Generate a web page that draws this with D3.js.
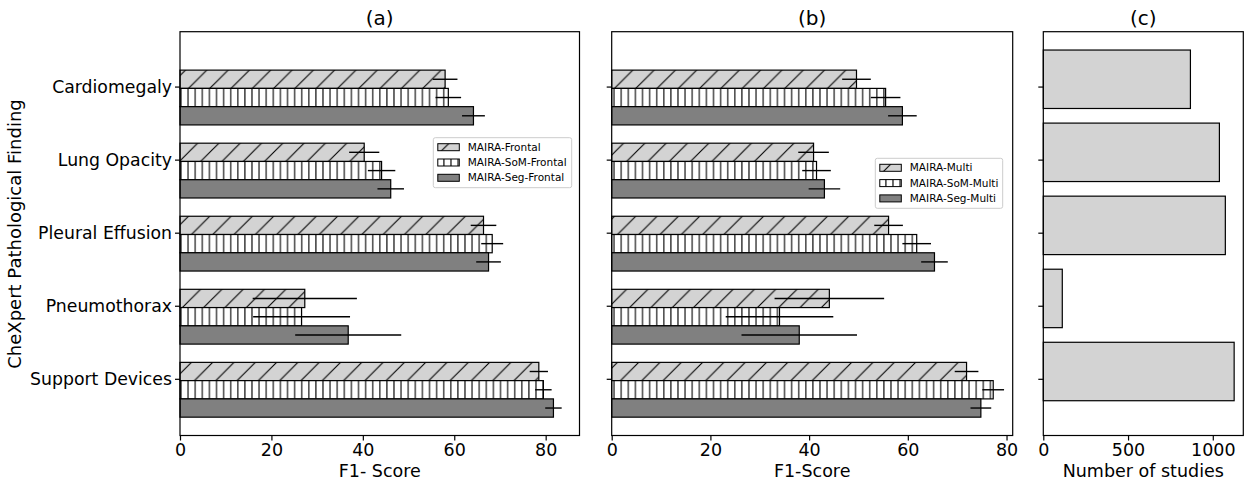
<!DOCTYPE html>
<html>
<head>
<meta charset="utf-8">
<script src="https://cdn.jsdelivr.net/npm/d3@7"></script>
<style>
  body { margin: 0; background: #fff; }
  text { font-family: "DejaVu Sans", sans-serif; fill: #000; }
</style>
</head>
<body>
<svg id="chart" width="1245" height="480"></svg>
<script>
// categories (top to bottom)
const findings = ["Cardiomegaly", "Lung Opacity", "Pleural Effusion", "Pneumothorax", "Support Devices"];

// (a) frontal models: F1 score and error half-width
const frontalNames = ["MAIRA-Frontal", "MAIRA-SoM-Frontal", "MAIRA-Seg-Frontal"];
const maiaFrontal    = [58.0, 40.3, 66.4, 27.3, 78.5];
const maiaFrontalErr = [2.7, 3.3, 2.8, 11.4, 2.0];
const somFrontal     = [58.7, 44.1, 68.3, 26.6, 79.5];
const somFrontalErr  = [2.8, 3.0, 2.4, 10.6, 1.8];
const segFrontal     = [64.2, 46.1, 67.5, 36.8, 81.7];
const segFrontalErr  = [2.5, 2.9, 2.7, 11.6, 1.8];

// (b) multi-view models
const multiNames = ["MAIRA-Multi", "MAIRA-SoM-Multi", "MAIRA-Seg-Multi"];
const maiaMulti    = [49.6, 40.9, 56.1, 44.1, 71.9];
const maiaMultiErr = [2.9, 3.1, 2.9, 11.1, 2.4];
const somMulti     = [55.5, 41.5, 61.8, 34.0, 77.3];
const somMultiErr  = [3.0, 2.9, 2.9, 10.9, 2.2];
const segMulti     = [58.9, 43.1, 65.4, 38.0, 74.8];
const segMultiErr  = [2.9, 3.2, 2.7, 11.7, 2.1];

// (c) number of studies
const studies = [868, 1039, 1074, 112, 1126];

const f1Ticks = [0, 20, 40, 60, 80];
const studyTicks = [0, 500, 1000];

const svg = d3.select("#chart");
const plotTop = 31.7, plotBottom = 435.5;

// shared y scale (category index)
const y = d3.scaleLinear().domain([-0.751, 4.776]).range([plotTop, plotBottom]);
const barH = 0.25;
const offsets = [-0.1, 0.15, 0.4];

// hatch patterns
const defs = svg.append("defs");
const pSlash = defs.append("pattern").attr("id", "hatchSlash")
    .attr("patternUnits", "userSpaceOnUse").attr("width", 21.3).attr("height", 21.3);
pSlash.append("rect").attr("width", 21.3).attr("height", 21.3).attr("fill", "#d3d3d3");
pSlash.append("path").attr("d", "M-2,23.3 L23.3,-2 M-10.65,10.65 L10.65,-10.65 M10.65,31.95 L31.95,10.65")
    .attr("stroke", "#000").attr("stroke-width", 1.1);
const pVert = defs.append("pattern").attr("id", "hatchVert")
    .attr("patternUnits", "userSpaceOnUse").attr("width", 7.1).attr("height", 10);
pVert.append("rect").attr("width", 7.1).attr("height", 10).attr("fill", "#fff");
pVert.append("path").attr("d", "M3.5,0 L3.5,10").attr("stroke", "#000").attr("stroke-width", 1.1);

const fills = ["url(#hatchSlash)", "url(#hatchVert)", "#808080"];

function drawPanel(x0, x1, domainMax, ticks, title, xlabel, series, names, legendPos, showY) {
    const x = d3.scaleLinear().domain([0, domainMax]).range([x0, x1]);
    const g = svg.append("g");

    series.forEach((s, k) => {
        g.selectAll(null).data(findings).enter().append("rect")
            .attr("x", x(0))
            .attr("y", (d, i) => y(i + offsets[k] - barH / 2))
            .attr("width", (d, i) => x(s.vals[i]) - x(0))
            .attr("height", y(barH) - y(0))
            .attr("fill", fills[k])
            .attr("stroke", "#000").attr("stroke-width", 1.2);
    });
    series.forEach((s, k) => {
        g.selectAll(null).data(findings).enter().append("line")
            .attr("x1", (d, i) => x(s.vals[i] - s.err[i]))
            .attr("x2", (d, i) => x(s.vals[i] + s.err[i]))
            .attr("y1", (d, i) => y(i + offsets[k]))
            .attr("y2", (d, i) => y(i + offsets[k]))
            .attr("stroke", "#000").attr("stroke-width", 1.4);
    });

    drawFrame(g, x, ticks, title, xlabel, showY);

    // legend
    const lg = g.append("g").attr("transform", `translate(${legendPos[0]},${legendPos[1]})`);
    lg.append("rect").attr("width", legendPos[2]).attr("height", 50).attr("rx", 2)
        .attr("fill", "#fff").attr("fill-opacity", 0.8).attr("stroke", "#ccc");
    names.forEach((n, k) => {
        const yy = 9.5 + k * 15.3;
        lg.append("rect").attr("x", 4.5).attr("y", yy - 3.5).attr("width", 21.5).attr("height", 7)
            .attr("fill", fills[k]).attr("stroke", "#000").attr("stroke-width", 1);
        lg.append("text").attr("x", 34.5).attr("y", yy).attr("dy", "0.35em")
            .style("font-size", "10.5px").text(n);
    });
}

function drawFrame(g, x, ticks, title, xlabel, showY) {
    const [x0, x1] = x.range();
    g.append("rect").attr("x", x0).attr("y", plotTop).attr("width", x1 - x0).attr("height", plotBottom - plotTop)
        .attr("fill", "none").attr("stroke", "#000").attr("stroke-width", 1.2);

    const xa = g.append("g").attr("transform", `translate(0,${plotBottom})`)
        .call(d3.axisBottom(x).tickValues(ticks).tickSize(5).tickPadding(3).tickFormat(d3.format("d")));
    xa.select(".domain").remove();
    xa.selectAll("text").style("font-size", "17.5px").style("font-family", "DejaVu Sans, sans-serif");
    xa.selectAll("line").attr("stroke-width", 1.2);

    const ya = g.append("g").attr("transform", `translate(${x0},0)`)
        .call(d3.axisLeft(y).tickValues(d3.range(findings.length)).tickSize(5).tickPadding(3)
            .tickFormat(i => showY ? findings[i] : ""));
    ya.select(".domain").remove();
    ya.selectAll("text").style("font-size", "17.3px").style("font-family", "DejaVu Sans, sans-serif");
    ya.selectAll("line").attr("stroke-width", 1.2);

    g.append("text").attr("x", (x0 + x1) / 2).attr("y", 25).attr("text-anchor", "middle")
        .style("font-size", "20px").text(title);
    g.append("text").attr("x", (x0 + x1) / 2).attr("y", 477).attr("text-anchor", "middle")
        .style("font-size", "17.5px").text(xlabel);
}

drawPanel(180, 579.5, 87.4, f1Ticks, "(a)", "F1- Score", [
    { vals: maiaFrontal, err: maiaFrontalErr },
    { vals: somFrontal, err: somFrontalErr },
    { vals: segFrontal, err: segFrontalErr }
], frontalNames, [433.3, 137.7, 138.4], true);

drawPanel(611.7, 1012.7, 81.25, f1Ticks, "(b)", "F1-Score", [
    { vals: maiaMulti, err: maiaMultiErr },
    { vals: somMulti, err: somMultiErr },
    { vals: segMulti, err: segMultiErr }
], multiNames, [875.3, 158.3, 127.4], false);

// panel (c)
const xc = d3.scaleLinear().domain([0, 1180]).range([1043.3, 1243.3]);
const gc = svg.append("g");
gc.selectAll(null).data(studies).enter().append("rect")
    .attr("x", xc(0))
    .attr("y", (d, i) => y(i - 0.1 - 0.4))
    .attr("width", d => xc(d) - xc(0))
    .attr("height", y(0.8) - y(0))
    .attr("fill", "#d3d3d3").attr("stroke", "#000").attr("stroke-width", 1.2);
drawFrame(gc, xc, studyTicks, "(c)", "Number of studies", false);

// y axis label
svg.append("text").attr("transform", "translate(15,234) rotate(-90)")
    .attr("text-anchor", "middle").attr("dy", "0.35em")
    .style("font-size", "18px").text("CheXpert Pathological Finding");
</script>
</body>
</html>
